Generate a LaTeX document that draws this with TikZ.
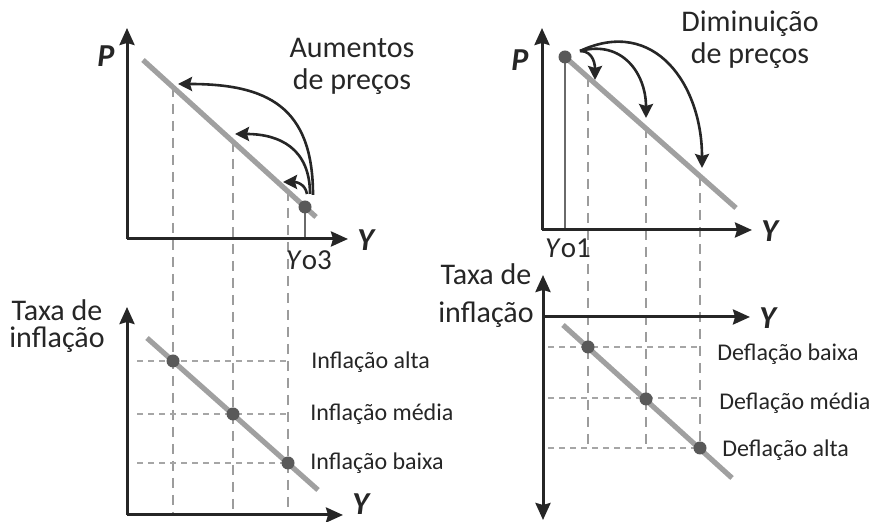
\documentclass[tikz,border=0pt]{standalone}
\usepackage{fontspec}
\setmainfont{Carlito}
\usetikzlibrary{arrows.meta,calc}

\definecolor{axiscol}{HTML}{262626}
\definecolor{curvecol}{HTML}{A0A0A0}
\definecolor{dotcol}{HTML}{595959}
\definecolor{dashcol}{HTML}{9C9C9C}

\begin{document}
\begin{tikzpicture}[
    x=0.5pt, y=0.5pt,
    axis/.style={line width=1.5pt, draw=axiscol, -{Stealth[length=8.5pt,width=7.5pt,inset=1pt]}},
    axistwo/.style={axis, {Stealth[length=8.5pt,width=7.5pt,inset=1pt]}-{Stealth[length=8.5pt,width=7.5pt,inset=1pt]}},
    curve/.style={line width=2.6pt, draw=curvecol},
    dot/.style={circle, fill=dotcol, inner sep=0pt, minimum size=6.5pt},
    vdash/.style={line width=1.2pt, draw=dashcol, dash pattern=on 5pt off 3.5pt},
    hdash/.style={line width=1pt, draw=dashcol!90, dash pattern=on 3pt off 2.5pt},
    drop/.style={line width=1.3pt, draw=dotcol!90},
    movearrow/.style={line width=1.3pt, draw=axiscol, -{Stealth[length=7pt,width=7pt,inset=1pt]}},
    axlbl/.style={font=\bfseries\itshape\fontsize{16}{16}\selectfont, text=axiscol, inner sep=1pt},
    big/.style={font=\fontsize{15}{16}\selectfont, text=axiscol, align=center, inner sep=0pt},
    small/.style={font=\fontsize{12}{12}\selectfont, text=axiscol, inner sep=0pt}
]
\useasboundingbox (0,0) rectangle (871,522);

% --- Arriba izquierda: aumentos de precios ---
\coordinate (oA) at (127,283);
\coordinate (pA) at (127,494);
\coordinate (yA) at (348,283);
\coordinate (lA1) at (143,462);
\coordinate (lA2) at (316,305);
\coordinate (tA1) at (173,435);
\coordinate (tA2) at (233,380);
\coordinate (tA3) at (288,331);
\coordinate (fA) at (305,283);

% --- Arriba derecha: disminucion de precios ---
\coordinate (oB) at (542,292);
\coordinate (pB) at (542,494);
\coordinate (yB) at (752,292);
\coordinate (lB2) at (736,314);
\coordinate (tB1) at (588,445);
\coordinate (tB2) at (646,394);
\coordinate (tB3) at (700,346);
\coordinate (fB) at (565,292);

% --- Abajo izquierda: inflacion ---
\coordinate (oC) at (127,7);
\coordinate (pC) at (127,215);
\coordinate (yC) at (343,7);
\coordinate (lC1) at (147,184);
\coordinate (lC2) at (318,32);
\coordinate (bC1) at (173,7);
\coordinate (bC2) at (233,7);
\coordinate (bC3) at (288,7);
\coordinate (hC1) at (137,161);
\coordinate (hC2) at (137,108);
\coordinate (hC3) at (137,59);

% --- Abajo derecha: deflacion ---
\coordinate (oD) at (543,205);
\coordinate (pD) at (543,247);
\coordinate (nD) at (543,2);
\coordinate (yD) at (750,205);
\coordinate (lD1) at (563,197);
\coordinate (lD2) at (732,44);
\coordinate (bD1) at (588,74);
\coordinate (bD2) at (646,74);
\coordinate (bD3) at (700,74);
\coordinate (hD1) at (548,175);
\coordinate (hD2) at (548,124);
\coordinate (hD3) at (548,74);

% --- Puntos ---
\coordinate (dA) at (305,315);
\coordinate (dB) at (565,465);
\coordinate (dC1) at (173,161);
\coordinate (dC2) at (233,108);
\coordinate (dC3) at (288,59);
\coordinate (dD1) at (588,175);
\coordinate (dD2) at (646,123);
\coordinate (dD3) at (700,74);

% --- Lineas de guia ---
\draw[vdash] (tA1) -- (bC1);
\draw[vdash] (tA2) -- (bC2);
\draw[vdash] (tA3) -- (bC3);
\draw[vdash] (tB1) -- (bD1);
\draw[vdash] (tB2) -- (bD2);
\draw[vdash] (tB3) -- (bD3);
\draw[hdash] (hC1) -- (hC1 -| dC3);
\draw[hdash] (hC2) -- (hC2 -| dC3);
\draw[hdash] (hC3) -- (hC3 -| dC3);
\draw[hdash] (hD1) -- (hD1 -| dD3);
\draw[hdash] (hD2) -- (hD2 -| dD3);
\draw[hdash] (hD3) -- (hD3 -| dD3);

% --- Curvas ---
\draw[curve] (lA1) -- (lA2);
\draw[curve] (dB) -- (lB2);
\draw[curve] (lC1) -- (lC2);
\draw[curve] (lD1) -- (lD2);
\draw[drop] (dA) -- (fA);
\draw[drop] (dB) -- (fB);

% --- Ejes ---
\draw[axis] (oA) -- (pA);
\draw[axis] (oA) -- (yA);
\draw[axis] (oB) -- (pB);
\draw[axis] (oB) -- (yB);
\draw[axis] (oC) -- (pC);
\draw[axis] (oC) -- (yC);
\draw[axistwo] (nD) -- (pD);
\draw[axis] (oD) -- (yD);

% --- Puntos encima ---
\node[dot] (ptA) at (dA) {};
\node[dot] (ptB) at (dB) {};
\node[dot] (ptC1) at (dC1) {};
\node[dot] (ptC2) at (dC2) {};
\node[dot] (ptC3) at (dC3) {};
\node[dot] (ptD1) at (dD1) {};
\node[dot] (ptD2) at (dD2) {};
\node[dot] (ptD3) at (dD3) {};

% --- Flechas de desplazamiento ---
\coordinate (sA1) at (313,327);
\coordinate (sA2) at (310,328);
\coordinate (sA3) at (307,328);
\coordinate (eA1) at (178,438);
\coordinate (eA2) at (235,388);
\coordinate (eA3) at (283,340);
\draw[movearrow] (sA1) to[out=90, in=0, looseness=1.3] (eA1);
\draw[movearrow] (sA2) to[out=90, in=0, looseness=1.2] (eA2);
\draw[movearrow] (sA3) to[out=100, in=0, looseness=1.1] (eA3);

\coordinate (sB) at (580,471);
\coordinate (eB1) at (595,442);
\coordinate (eB2) at (646,404);
\coordinate (eB3) at (702,354);
\draw[movearrow] (sB) to[out=0, in=90, looseness=1.1] (eB1);
\draw[movearrow] (sB) to[out=15, in=90, looseness=1.2] (eB2);
\draw[movearrow] (sB) to[out=25, in=90, looseness=1.25] (eB3);

% --- Textos ---
\node[axlbl] (PA) at (106,466) {P};
\node[axlbl, anchor=west] (YA) at (355,282) {Y};
\node[axlbl] (PB) at (520,462) {P};
\node[axlbl, anchor=west] (YB) at (759,291) {Y};
\node[axlbl, anchor=base west, inner sep=0pt] (YC) at (352,7) {Y};
\node[axlbl, anchor=west] (YD) at (757,204) {Y};
\node[big, font=\fontsize{14.5}{14.5}\selectfont] (yo3) at (309,262) {\textit{Y}o3};
\node[big, font=\fontsize{14.5}{14.5}\selectfont] (yo1) at (568,274) {\textit{Y}o1};
\node[big] (aumentos) at (352,456) {Aumentos\\de preços};
\node[big] (diminuicao) at (750,482) {Diminuição\\de preços};
\node[big, font=\fontsize{15}{13.5}\selectfont] (taxaC) at (57,196) {Taxa de\\inflação};
\node[big, font=\fontsize{15}{19}\selectfont] (taxaD) at (486,226) {Taxa de\\inflação};
\node[small, anchor=west] (infAlta) at (311,160) {Inflação alta};
\node[small, anchor=west] (infMedia) at (310,108) {Inflação média};
\node[small, anchor=west] (infBaixa) at (310,59) {Inflação baixa};
\node[small, anchor=west] (defBaixa) at (717,168) {Deflação baixa};
\node[small, anchor=west] (defMedia) at (719,119) {Deflação média};
\node[small, anchor=west] (defAlta) at (722,72) {Deflação alta};

\end{tikzpicture}
\end{document}
